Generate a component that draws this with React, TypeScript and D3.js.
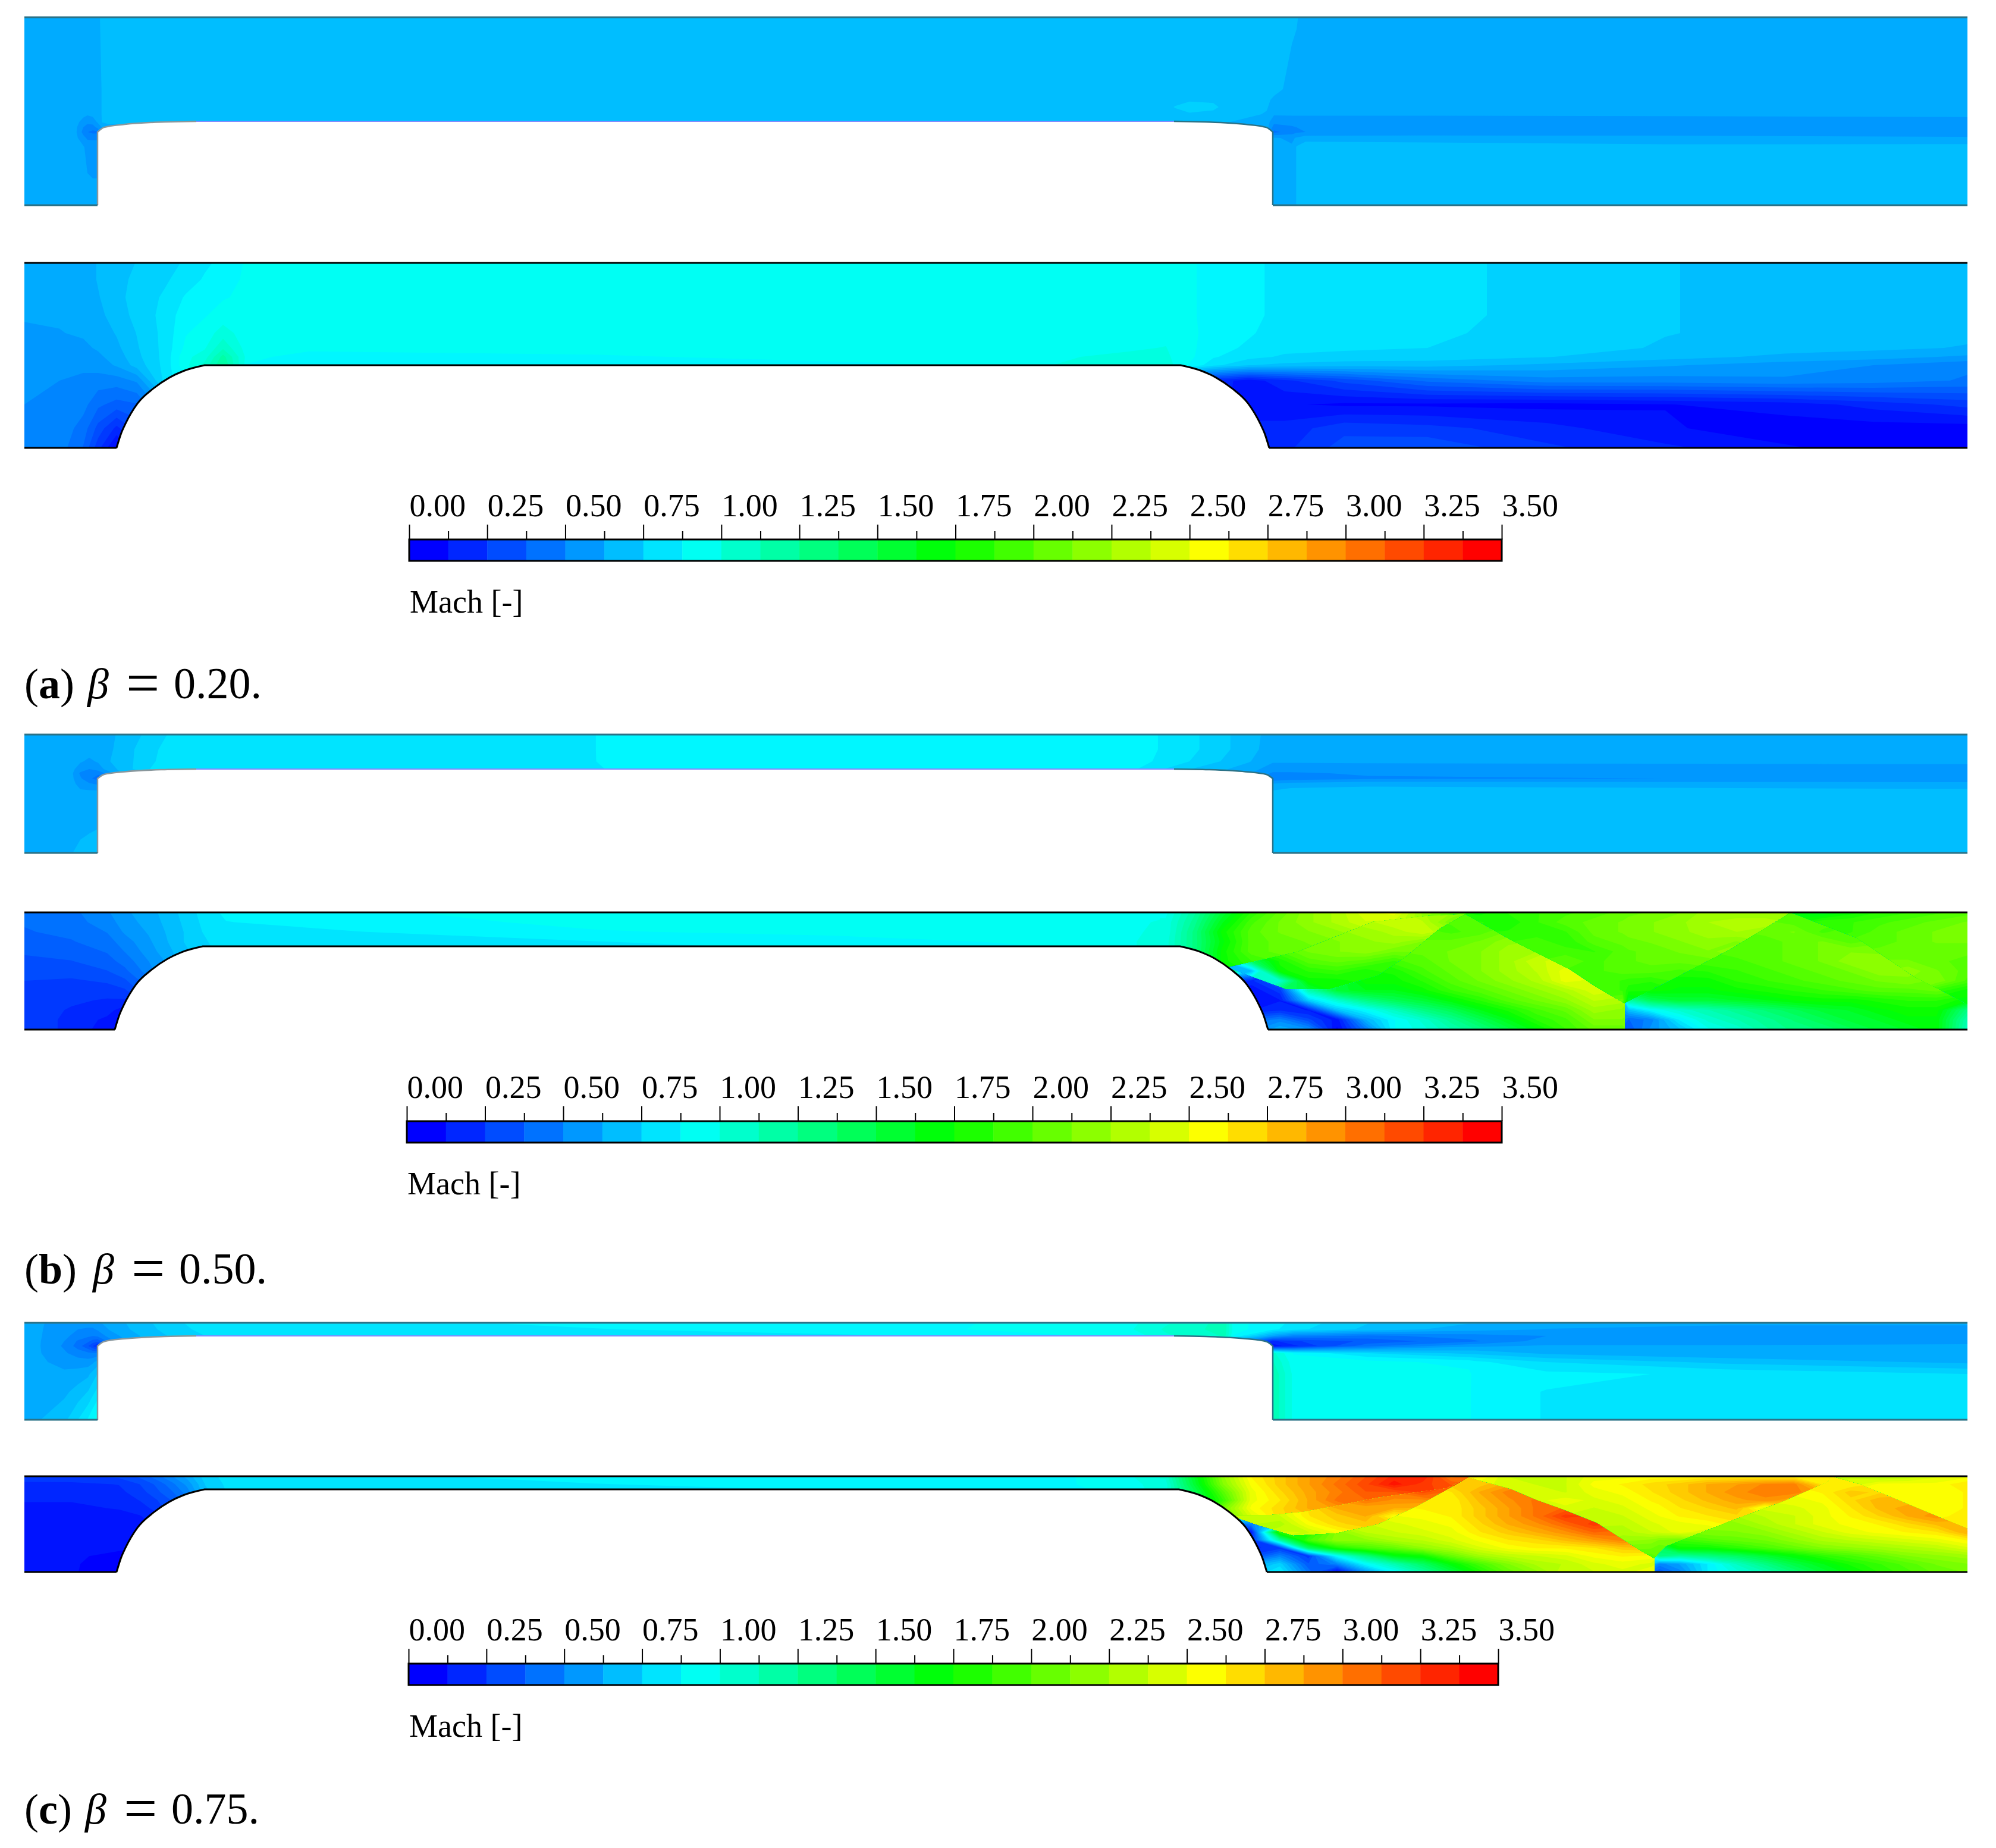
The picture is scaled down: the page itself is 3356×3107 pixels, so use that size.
import React, { useRef, useEffect } from "react";
import * as d3 from "d3";

const serif = "'Liberation Serif', serif";

// Mach colour map and colour bar
const machTicks = d3.range(0, 3.51, 0.25);
const machMinorTicks = d3.range(0.125, 3.5, 0.25);
const barBands = d3.range(0, 3.5, 0.125);
const colourStops = [0.0625, 0.9, 1.72, 2.57, 3.44];
const colourNames = ["#0000ff", "#00ffff", "#00ff00", "#ffff00", "#ff0000"];
const fieldLevels = [-0.1, ...d3.range(0.03, 3.6, 0.0625)];

// Panel (a), upper passage
const aTopX = [41, 125, 140, 147, 156, 164, 172, 182, 1960, 1975, 2000, 2040, 2060, 2130, 2142, 2172, 2180, 2195, 2400, 2800, 3308];
const aTopY = [29, 150, 168, 180, 192, 205, 214, 222, 232, 247, 345];
const aTopMach = [
  [.62, .62, .62, .62, .62, .64, .67, .69, .69, .69, .69, .69, .69, .69, .69, .67, .66, .63, .63, .63, .63],
  [.62, .62, .62, .62, .62, .63, .66, .69, .69, .69, .69, .69, .69, .69, .68, .63, .63, .63, .63, .63, .63],
  [.62, .62, .62, .62, .62, .63, .66, .69, .69, .7, .7, .7, .69, .67, .64, .63, .63, .63, .63, .63, .63],
  [.62, .62, .62, .62, .62, .63, .66, .69, .69, .72, .78, .74, .69, .66, .63, .62, .62, .62, .62, .62, .62],
  [.62, .62, .61, .6, .61, .63, .66, .69, .69, .7, .7, .69, .69, .65, .6, .6, .6, .6, .6, .6, .6],
  [.62, .62, .57, .55, .56, .6, .66, .69, .66, .66, .66, .66, .66, .62, .55, .56, .56, .56, .56, .57, .58],
  [.62, .62, .53, .5, .5, .55, .6, .6, .6, .6, .6, .6, .6, .62, .5, .52, .53, .54, .54, .54, .55],
  [.62, .62, .51, .47, .45, .45, .6, .6, .6, .6, .6, .6, .6, .6, .45, .5, .52, .53, .54, .55, .56],
  [.62, .62, .55, .52, .52, .52, .6, .6, .6, .6, .6, .6, .6, .6, .6, .58, .6, .63, .63, .62, .6],
  [.62, .62, .6, .57, .56, .56, .6, .6, .6, .6, .6, .6, .6, .6, .6, .6, .66, .69, .68, .67, .68],
  [.62, .62, .62, .62, .62, .62, .6, .6, .6, .6, .6, .6, .6, .6, .6, .6, .66, .69, .69, .69, .69],
];

// Panel (a), lower passage
const aBottomX = [41, 100, 140, 165, 196, 230, 277, 312, 344, 375, 420, 520, 1000, 1500, 1900, 1960, 2000, 2040, 2100, 2160, 2260, 2400, 2600, 2800, 3000, 3150, 3308];
const aBottomY = [442, 470, 500, 530, 560, 585, 600, 614, 640, 680, 720, 753];
const aBottomMach = [
  [.6, .61, .62, .66, .69, .72, .75, .79, .83, .86, .92, .92, .92, .92, .94, .95, .92, .87, .86, .82, .81, .8, .76, .72, .7, .69, .69],
  [.6, .61, .62, .66, .7, .73, .77, .81, .85, .88, .92, .92, .92, .92, .94, .95, .92, .87, .86, .82, .81, .8, .76, .72, .7, .69, .69],
  [.6, .6, .62, .65, .7, .74, .79, .85, .87, .9, .92, .92, .92, .92, .94, .95, .92, .87, .86, .82, .81, .8, .76, .72, .7, .69, .69],
  [.6, .6, .61, .64, .68, .74, .8, .88, .9, .93, .92, .92, .92, .92, .95, .95, .92, .87, .86, .82, .81, .8, .76, .72, .7, .69, .68],
  [.58, .59, .6, .62, .66, .72, .8, .9, .93, 1, .92, .92, .92, .92, .96, .95, .92, .88, .85, .81, .8, .79, .76, .72, .7, .69, .67],
  [.56, .57, .58, .6, .64, .71, .8, .92, .96, 1.08, .92, .92, .92, .92, .96, .97, .92, .87, .83, .8, .79, .78, .75, .71, .68, .67, .65],
  [.54, .55, .56, .58, .62, .7, .8, .95, 1, 1.18, .92, .88, .9, .92, .98, .98, .92, .85, .8, .77, .76, .75, .72, .68, .64, .62, .58],
  [.53, .54, .54, .56, .6, .68, .8, .95, 1.05, 1.22, .9, .87, .88, .9, 1, 1, .9, .8, .72, .7, .68, .68, .64, .6, .56, .53, .48],
  [.53, .53, .52, .5, .5, .54, .8, .9, 1, 1, .9, .87, .88, .9, 1, .6, .3, .2, .12, .2, .3, .42, .5, .5, .52, .5, .46],
  [.53, .52, .49, .42, .38, .4, .6, .8, .9, .9, .9, .87, .88, .9, 1, .6, .3, .2, .1, .1, .08, .08, .07, .09, .12, .18, .24],
  [.53, .51, .44, .32, .2, .3, .5, .8, .9, .9, .9, .87, .88, .9, 1, .6, .3, .2, .18, .18, .26, .24, .18, .1, .06, .06, .06],
  [.53, .5, .4, .24, .07, .2, .5, .8, .9, .9, .9, .87, .88, .9, 1, .6, .3, .2, .2, .2, .31, .33, .23, .17, .1, .07, .07],
];

// Panel (b), upper passage
const bTopX = [41, 118, 135, 150, 165, 182, 215, 252, 310, 350, 1000, 1030, 1900, 2000, 2100, 2140, 2170, 2300, 3308];
const bTopY = [1235, 1260, 1280, 1293, 1300, 1309, 1318, 1330, 1434];
const bTopMach = [
  [.62, .62, .62, .62, .62, .64, .68, .74, .82, .84, .84, .88, .88, .8, .68, .63, .62, .62, .62],
  [.62, .62, .62, .62, .62, .64, .7, .76, .84, .84, .84, .88, .88, .8, .68, .62, .62, .62, .62],
  [.62, .62, .6, .58, .6, .65, .7, .77, .83, .84, .84, .87, .88, .78, .66, .6, .6, .6, .6],
  [.62, .62, .56, .53, .56, .62, .7, .78, .81, .82, .82, .86, .86, .72, .62, .56, .56, .57, .58],
  [.62, .62, .52, .47, .48, .56, .7, .7, .7, .7, .7, .7, .7, .7, .6, .52, .52, .54, .54],
  [.62, .62, .54, .48, .44, .44, .7, .7, .7, .7, .7, .7, .7, .6, .6, .48, .5, .52, .54],
  [.62, .62, .57, .54, .52, .52, .7, .7, .7, .7, .7, .7, .6, .6, .6, .6, .62, .64, .62],
  [.62, .62, .6, .6, .6, .62, .7, .7, .7, .7, .7, .7, .6, .6, .6, .66, .68, .68, .67],
  [.62, .65, .67, .68, .69, .69, .7, .7, .7, .7, .7, .7, .6, .6, .6, .68, .69, .69, .69],
];

// Panel (b), lower passage: left part and right part share the rows
const bBottomY = d3.range(1534, 1732, 197 / 12);
const bBottomLeftX = [41, 120, 180, 210, 250, 280, 310, 340, 380, 600, 1000, 1400, 1800, 1900];
const bBottomLeftMach = [
  [.42, .45, .52, .58, .63, .68, .74, .8, .86, .9, .92, .93, .93, .95],
  [.41, .44, .5, .56, .62, .67, .73, .79, .84, .88, .92, .92, .93, .95],
  [.4, .42, .47, .54, .6, .66, .72, .78, .82, .84, .9, .92, .93, .96],
  [.37, .4, .44, .5, .58, .65, .72, .77, .81, .82, .84, .88, .92, .96],
  [.35, .37, .41, .47, .56, .63, .7, .76, .8, .8, .8, .84, .9, .96],
  [.33, .34, .38, .43, .53, .6, .7, .76, .8, .8, .8, .84, .9, .96],
  [.3, .31, .34, .39, .5, .6, .7, .76, .8, .8, .8, .84, .9, .96],
  [.28, .27, .29, .33, .45, .6, .7, .76, .8, .8, .8, .84, .9, .96],
  [.27, .24, .25, .27, .4, .6, .7, .76, .8, .8, .8, .84, .9, .96],
  [.26, .23, .21, .21, .3, .6, .7, .76, .8, .8, .8, .84, .9, .96],
  [.26, .21, .18, .12, .2, .6, .7, .76, .8, .8, .8, .84, .9, .96],
  [.26, .2, .14, .08, .1, .6, .7, .76, .8, .8, .8, .84, .9, .96],
  [.26, .2, .12, .06, .1, .6, .7, .76, .8, .8, .8, .84, .9, .96],
];
const bBottomRightX = [1960, 2008, 2056, 2104, 2152, 2200, 2248, 2296, 2344, 2392, 2440, 2488, 2536, 2584, 2632, 2680, 2728, 2738, 2776, 2824, 2872, 2920, 2968, 3016, 3064, 3112, 3160, 3208, 3256, 3308];
const bBottomRightMach = [
  [.95, 1.2, 1.55, 1.85, 2.05, 2.2, 2.3, 2.45, 2.5, 2.2, 2, 1.75, 1.85, 1.9, 1.95, 2, 2.05, 2.07, 2.1, 2.15, 2.25, 2.25, 2.25, 1.7, 1.6, 1.75, 1.85, 1.9, 1.95, 2],
  [.98, 1.25, 1.65, 1.95, 2.1, 2.2, 2.3, 2.4, 2.4, 2.35, 2.1, 1.85, 1.8, 1.9, 2, 2.05, 2.1, 2.12, 2.15, 2.2, 2.28, 2.3, 2.3, 2, 1.9, 1.9, 1.95, 2, 2.05, 2.1],
  [.98, 1.3, 1.75, 2, 2.1, 2.15, 2.2, 2.25, 2.3, 2.4, 1.95, 2, 1.85, 1.85, 1.9, 2.05, 2.1, 2.12, 2.15, 2.2, 2.25, 2.28, 2.05, 2.1, 1.95, 1.9, 2, 2.05, 2.1, 2.15],
  [1, 1.3, 1.7, 2, 2.05, 2.1, 2.15, 2.2, 2.25, 2.15, 2.05, 2.1, 2.2, 1.95, 1.85, 2, 2.05, 2.07, 2.1, 2.15, 2.2, 2.15, 2, 2.05, 2.1, 2, 2, 2.05, 2.1, 2.1],
  [1, 1.3, 1.75, 2, 2.05, 2.1, 2.15, 2.2, 2.1, 2.05, 2.1, 2.15, 2.25, 1.95, 1.95, 1.9, 2, 2.02, 2.05, 2.1, 2.15, 2, 2, 2.05, 2.1, 2.15, 2.05, 2.05, 2.05, 2.05],
  [1, 1.3, 1.75, 1.9, 1.8, 2, 2.05, 2, 1.9, 2, 2.1, 2.15, 2.25, 2.4, 2, 1.95, 2, 2.02, 2.05, 2.05, 1.95, 1.95, 2, 2.05, 2.1, 2.2, 2.2, 2.1, 2.05, 2],
  [1, 1.3, 1.75, .7, 1.75, 1.85, 1.9, 1.8, 1.8, 1.95, 2.05, 2.15, 2.25, 2.35, 2.5, 1.95, 2, 2, 2, 1.95, 1.85, 1.9, 1.95, 2, 2.05, 2.1, 2.2, 2.2, 2.1, 2],
  [1, 1.3, .3, .2, 1.05, 1.75, 1.75, 1.75, 1.75, 1.85, 2, 2.1, 2.2, 2.3, 2.5, 1.95, 1.9, 1.88, 1.85, 1.75, 1.75, 1.85, 1.9, 1.95, 2, 2.05, 2.1, 2.15, 2.15, 1.95],
  [1, 1.3, .2, .1, .25, 1.15, 1.55, 1.65, 1.65, 1.75, 1.9, 2, 2.1, 2.2, 2.3, 2.45, 1.9, 1.8, 1.75, 1.7, 1.7, 1.75, 1.8, 1.85, 1.9, 1.95, 2, 2, 2.05, 1.75],
  [1, 1.3, .2, .1, .15, .75, 1.05, 1.3, 1.45, 1.55, 1.7, 1.85, 2, 2.1, 2.2, 2.35, 2.05, 1.6, 1.45, 1.55, 1.55, 1.6, 1.65, 1.72, 1.75, 1.75, 1.8, 1.85, 1.85, 1.7],
  [1, 1.3, .2, .15, .2, .15, .7, .9, 1.1, 1.3, 1.45, 1.65, 1.8, 1.95, 2.05, 2.25, 2.2, .7, .9, 1.05, 1.15, 1.25, 1.35, 1.45, 1.55, 1.6, 1.7, 1.75, 1.75, 1.3],
  [1, 1.3, .3, .4, .5, .3, .12, .65, .9, 1.05, 1.25, 1.45, 1.65, 1.85, 1.95, 2.15, 2.15, .4, .5, .85, 1.05, 1.15, 1.25, 1.35, 1.45, 1.55, 1.6, 1.7, 1.7, 1.15],
  [1, 1.3, .3, .5, .65, .55, .08, .45, .9, 1, 1.15, 1.3, 1.5, 1.7, 1.9, 2.05, 2.05, .35, .55, .7, .95, 1.05, 1.2, 1.3, 1.35, 1.45, 1.55, 1.6, 1.7, 1.1],
];

// Panel (c), upper passage
const cTopX = [41, 64, 108, 131, 148, 156, 164, 185, 215, 250, 300, 345, 765, 1500, 1900, 1960, 2060, 2075, 2140, 2175, 2300, 2470, 2480, 2600, 2900, 3308];
const cTopY = [2224, 2235, 2246, 2255, 2263, 2275, 2290, 2310, 2340, 2387];
const cTopMach = [
  [.6, .6, .57, .55, .56, .56, .58, .62, .66, .71, .77, .82, .84, .88, .95, 1.02, 1.12, .92, .88, .82, .72, .66, .66, .62, .6, .6],
  [.6, .6, .56, .53, .52, .52, .54, .6, .65, .7, .76, .8, .82, .88, .96, 1.04, 1.12, .93, .86, .8, .7, .62, .62, .59, .58, .58],
  [.6, .6, .55, .5, .48, .47, .48, .56, .62, .68, .74, .78, .8, .84, .92, 1.02, 1.1, .9, .6, .5, .45, .5, .5, .53, .56, .58],
  [.6, .6, .53, .46, .42, .38, .36, .5, .6, .68, .74, .78, .8, .84, .9, .9, .9, .6, .2, .27, .36, .45, .46, .56, .56, .58],
  [.6, .6, .52, .44, .35, .28, .2, .5, .6, .68, .74, .78, .8, .8, .8, .8, .8, .5, .12, .2, .45, .58, .58, .6, .6, .6],
  [.6, .6, .54, .5, .48, .47, .48, .5, .6, .68, .74, .78, .8, .8, .8, .8, .8, .8, 1.05, .9, .78, .7, .7, .64, .6, .6],
  [.6, .6, .58, .56, .56, .58, .62, .6, .6, .68, .74, .78, .8, .8, .8, .8, .8, .8, 1.1, .93, .93, .88, .86, .78, .7, .64],
  [.6, .62, .6, .62, .64, .68, .72, .6, .6, .68, .74, .78, .8, .8, .8, .8, .8, .8, 1.15, .95, .93, .92, .88, .86, .83, .78],
  [.6, .62, .64, .68, .72, .76, .8, .6, .6, .68, .74, .78, .8, .8, .8, .8, .8, .8, 1.15, .95, .93, .92, .87, .84, .84, .84],
  [.6, .65, .7, .78, .85, .9, .95, .6, .6, .68, .74, .78, .8, .8, .8, .8, .8, .8, 1.15, .95, .93, .92, .87, .84, .84, .84],
];

// Panel (c), lower passage: left part and right part share the rows
const cBottomY = d3.range(2482, 2644, 161 / 12);
const cBottomLeftX = [41, 120, 200, 235, 265, 290, 315, 345, 380, 600, 800, 1000, 1300, 1600, 1800, 1900];
const cBottomLeftMach = [
  [.26, .27, .3, .36, .45, .53, .62, .75, .8, .8, .85, .87, .87, .88, .9, .96],
  [.2, .2, .22, .28, .36, .45, .55, .72, .79, .79, .81, .84, .86, .87, .9, .95],
  [.18, .18, .2, .25, .33, .4, .5, .7, .78, .78, .78, .8, .83, .86, .88, .94],
  [.16, .16, .18, .22, .28, .35, .45, .6, .7, .78, .78, .78, .8, .83, .85, .92],
  [.14, .14, .16, .19, .24, .35, .45, .6, .7, .78, .78, .78, .8, .83, .85, .92],
  [.12, .12, .13, .15, .2, .35, .45, .6, .7, .78, .78, .78, .8, .83, .85, .92],
  [.1, .1, .12, .12, .18, .35, .45, .6, .7, .78, .78, .78, .8, .83, .85, .92],
  [.1, .1, .1, .1, .18, .35, .45, .6, .7, .78, .78, .78, .8, .83, .85, .92],
  [.1, .1, .1, .1, .18, .35, .45, .6, .7, .78, .78, .78, .8, .83, .85, .92],
  [.1, .1, .1, .1, .18, .35, .45, .6, .7, .78, .78, .78, .8, .83, .85, .92],
  [.1, .1, .08, .08, .18, .35, .45, .6, .7, .78, .78, .78, .8, .83, .85, .92],
  [.1, .1, .06, .06, .18, .35, .45, .6, .7, .78, .78, .78, .8, .83, .85, .92],
  [.1, .1, .05, .05, .18, .35, .45, .6, .7, .78, .78, .78, .8, .83, .85, .92],
];
const cBottomRightX = [1960, 2008, 2056, 2104, 2152, 2200, 2248, 2296, 2344, 2392, 2440, 2488, 2536, 2584, 2632, 2680, 2728, 2776, 2790, 2824, 2872, 2920, 2968, 3016, 3064, 3112, 3160, 3208, 3256, 3308];
const cBottomRightMach = [
  [1.05, 1.6, 2.2, 2.6, 2.75, 2.9, 3, 3.15, 3.3, 3.35, 3, 2.6, 2.4, 2.35, 2.4, 2.5, 2.5, 2.55, 2.55, 2.55, 2.6, 2.6, 2.6, 2.6, 2.6, 2.4, 2.3, 2.35, 2.45, 2.5],
  [1, 1.55, 2.15, 2.55, 2.75, 2.9, 3.05, 3.2, 3.38, 3.25, 3.15, 2.75, 2.45, 2.4, 2.4, 2.55, 2.6, 2.68, 2.7, 2.75, 2.85, 2.9, 2.98, 3, 2.65, 2.6, 2.55, 2.55, 2.55, 2.65],
  [1, 1.45, 2, 2.5, 2.7, 2.87, 3, 3.15, 3.15, 3.18, 2.65, 2.85, 3, 2.45, 2.4, 2.5, 2.55, 2.65, 2.68, 2.75, 2.85, 2.95, 3, 3, 2.6, 2.75, 2.7, 2.55, 2.55, 2.6],
  [1, 1.4, 1.9, 2.5, 2.65, 2.85, 3.05, 3.05, 2.95, 2.95, 2.6, 2.8, 2.95, 3.05, 2.5, 2.45, 2.5, 2.6, 2.62, 2.7, 2.8, 2.88, 2.95, 2.5, 2.55, 2.7, 2.82, 2.55, 2.55, 2.6],
  [1, 1.4, 2.1, 2.55, 2.7, 2.85, 2.85, 2.85, 2.85, 2.6, 2.6, 2.75, 2.9, 3.05, 2.45, 2.4, 2.45, 2.55, 2.57, 2.65, 2.72, 2.8, 2.45, 2.45, 2.5, 2.65, 2.8, 2.88, 2.55, 2.6],
  [1, 1.4, 2.1, 2.35, 2.4, 2.65, 2.75, 2.85, 2.55, 2.55, 2.6, 2.75, 2.9, 3.05, 3.25, 2.35, 2.4, 2.5, 2.53, 2.6, 2.65, 2.7, 2.35, 2.4, 2.5, 2.6, 2.72, 2.85, 2.95, 2.6],
  [1, 1.4, .2, .5, 2.3, 2.55, 2.7, 2.75, 2.45, 2.5, 2.55, 2.7, 2.85, 2.95, 3.1, 3.25, 2.35, 2.45, 2.47, 2.5, 2.55, 2.2, 2.3, 2.4, 2.5, 2.55, 2.6, 2.7, 2.8, 2.6],
  [1, 1.4, .1, .15, 1.9, 2.4, 2.55, 2.35, 2.4, 2.45, 2.5, 2.65, 2.75, 2.85, 2.95, 3.1, 2.3, 2.4, 2.42, 2.5, 2.15, 2.15, 2.2, 2.3, 2.4, 2.5, 2.55, 2.6, 2.65, 2.85],
  [1, 1.4, .1, .2, 1.2, 1.95, 2.2, 2.2, 2.3, 2.35, 2.45, 2.55, 2.65, 2.7, 2.8, 2.9, 3, 2.2, 2.15, 2.1, 2, 2.05, 2.1, 2.2, 2.3, 2.35, 2.4, 2.45, 2.5, 2.6],
  [1, 1.4, .1, .2, .25, 1.4, 1.8, 1.95, 2.05, 2.2, 2.3, 2.45, 2.55, 2.6, 2.6, 2.65, 2.75, 2.1, 2.05, 1.75, 1.75, 1.85, 1.95, 2.05, 2.15, 2.2, 2.25, 2.3, 2.35, 2.45],
  [1, 1.4, .2, .3, .5, .25, .9, 1.3, 1.65, 1.75, 2.05, 2.25, 2.35, 2.4, 2.45, 2.55, 2.6, 2, 1.3, 1.2, 1.3, 1.4, 1.55, 1.7, 1.85, 1.95, 2.05, 2.15, 2.2, 2.25],
  [1, 1.4, .3, .6, .75, .35, .5, .9, 1.15, 1.4, 1.7, 1.95, 2.15, 2.3, 2.35, 2.45, 2.5, 2.45, .5, .6, .85, 1.1, 1.3, 1.5, 1.65, 1.8, 1.9, 2, 2.1, 2.15],
  [1, 1.4, .3, .7, .85, .45, .08, .55, .9, 1.2, 1.5, 1.8, 2.05, 2.2, 2.4, 2.4, 2.45, 2.5, .35, .5, .85, 1, 1.15, 1.35, 1.55, 1.7, 1.85, 1.95, 2.05, 2.1],
];

// Shock and slip lines (b) and (c), as [x, y] in picture pixels
type Pt = [number, number];
const bSlip: Pt[] = [[2063, 1627], [2183, 1600], [2308, 1550], [2400, 1540], [2464, 1537]];
const bRising: Pt[] = [[2063, 1627], [2161, 1663], [2237, 1663], [2317, 1640], [2362, 1610], [2420, 1562], [2464, 1537]];
const bFalling: Pt[] = [[2464, 1537], [2540, 1580], [2640, 1630], [2685, 1660], [2732, 1687]];
const bReflected: Pt[] = [[2732, 1687], [2819, 1643], [2908, 1597], [3002, 1540], [3010, 1534]];
const bFalling2: Pt[] = [[3010, 1534], [3122, 1577], [3220, 1643], [3260, 1663], [3320, 1695]];
const cSlip: Pt[] = [[2067, 2548], [2139, 2547], [2192, 2542], [2246, 2532], [2317, 2518], [2389, 2508], [2433, 2502], [2470, 2484]];
const cRising: Pt[] = [[2067, 2548], [2116, 2565], [2174, 2582], [2246, 2578], [2317, 2563], [2384, 2532], [2455, 2493], [2470, 2484]];
const cFalling: Pt[] = [[2470, 2484], [2540, 2503], [2585, 2522], [2630, 2538], [2685, 2560], [2729, 2588], [2760, 2608], [2782, 2620]];
const cReflected: Pt[] = [[2782, 2620], [2801, 2600], [2908, 2558], [2997, 2525], [3073, 2492], [3080, 2482]];
const cFalling2: Pt[] = [[3080, 2482], [3127, 2495], [3176, 2515], [3265, 2552], [3320, 2574]];

// Wall profiles as fractions of the rounded length and height
const lipU = [0, 0.066, 0.277, 0.68, 1];
const lipV = [1, 0.56, 0.28, 0.056, 0];
const hubU = [0, 0.05, 0.1, 0.24, 0.42, 0.6, 0.76, 1];
const hubV = [0, 0.17, 0.29, 0.54, 0.72, 0.85, 0.93, 1];

const captionLetters = ["a", "b", "c"];
const captionBetas = ["0.20.", "0.50.", "0.75."];
const barLabel = "Mach [-]";

interface Passage {
  xs: number[];
  ys: number[];
  mach: number[][];
}

const join = (left: number[][], right: number[][]) => left.map((row, i) => [...row, ...right[i]]);

const fields: Passage[][] = [
  [
    { xs: aTopX, ys: aTopY, mach: aTopMach },
    { xs: aBottomX, ys: aBottomY, mach: aBottomMach },
  ],
  [
    { xs: bTopX, ys: bTopY, mach: bTopMach },
    { xs: [...bBottomLeftX, ...bBottomRightX], ys: bBottomY, mach: join(bBottomLeftMach, bBottomRightMach) },
  ],
  [
    { xs: cTopX, ys: cTopY, mach: cTopMach },
    { xs: [...cBottomLeftX, ...cBottomRightX], ys: cBottomY, mach: join(cBottomLeftMach, cBottomRightMach) },
  ],
];

// Geometry of each row: upper passage and lower passage outlines
const upperGeom = [
  { top: 29, flat: 204, notch: 222, bottom: 345 },
  { top: 1235, flat: 1293, notch: 1309, bottom: 1434 },
  { top: 2224, flat: 2246, notch: 2263, bottom: 2387 },
];
const lowerGeom = [
  { top: 442, flat: 614, bottom: 753, baseL: 196, topL: 344, topR: 1985, baseR: 2134 },
  { top: 1534, flat: 1591, bottom: 1731, baseL: 193, topL: 341, topR: 1984, baseR: 2132 },
  { top: 2482, flat: 2504, bottom: 2643, baseL: 196, topL: 344, topR: 1982, baseR: 2130 },
];
const barGeom = [
  { left: 688, right: 2525, top: 907 },
  { left: 684, right: 2525, top: 1885 },
  { left: 687, right: 2519, top: 2797 },
];
const captionGeom = [
  { baseline: 1174, shift: 0 },
  { baseline: 2158, shift: 9 },
  { baseline: 3066, shift: -4 },
];

const X0 = 41;
const X1 = 3308;
const stepL = 164;
const stepR = 2140;
const lipEndL = 330;
const lipEndR = 1974;

// Zones between the shocks: each one is contoured on its own so the lines stay sharp
const shockZones = (slip: Pt[], rising: Pt[], falling: Pt[], reflected: Pt[], falling2: Pt[], top: number, bottom: number): Pt[][] => {
  const T = top - 12;
  const B = bottom + 12;
  const start = slip[0];
  const junction = falling[0];
  const foot = falling[falling.length - 1];
  const crest = reflected[reflected.length - 1];
  return [
    [[1950, T], [junction[0], T], ...[...slip].reverse(), [1950, start[1]]],
    [...slip, ...[...rising].reverse()],
    [...falling, [foot[0], B], [1950, B], [1950, start[1]], ...rising],
    [...falling, ...reflected, [crest[0], T], [junction[0], T]],
    [...reflected, ...falling2, [3320, B], [foot[0], B]],
    [...falling2, [3320, T], [crest[0], T]],
  ];
};

const zones: (Pt[][] | null)[] = [
  null,
  shockZones(bSlip, bRising, bFalling, bReflected, bFalling2, 1534, 1731),
  shockZones(cSlip, cRising, cFalling, cReflected, cFalling2, 2482, 2643),
];

// Keep the values inside a zone and carry them outward, so contours reach its edge
const zoneGrid = (p: Passage, polygon: Pt[]): number[] => {
  const n = p.xs.length;
  const m = p.ys.length;
  let vals = p.mach.flat().map((v, k) =>
    d3.polygonContains(polygon, [p.xs[k % n], p.ys[Math.floor(k / n)]]) ? v : NaN,
  );
  for (let pass = 0; pass < n + m && vals.some(Number.isNaN); pass++) {
    const next = vals.slice();
    vals.forEach((v, k) => {
      if (!Number.isNaN(v)) return;
      const i = k % n;
      const j = Math.floor(k / n);
      const near: number[] = [];
      for (let a = -1; a <= 1; a++) {
        for (let b = -1; b <= 1; b++) {
          if (i + a < 0 || i + a >= n || j + b < 0 || j + b >= m) continue;
          const w = vals[j * n + b * n + i + a];
          if (!Number.isNaN(w)) near.push(w);
        }
      }
      if (near.length) next[k] = d3.mean(near) as number;
    });
    vals = next;
  }
  return vals.map((v) => (Number.isNaN(v) ? 0 : v));
};

export default function App() {
  const ref = useRef<SVGSVGElement | null>(null);

  useEffect(() => {
    const svg = d3.select(ref.current);
    svg.selectAll("*").remove();

    const colour = d3.scaleLinear<string>().domain(colourStops).range(colourNames).clamp(true);
    const line = d3.line().curve(d3.curveMonotoneX);

    const drawField = (g: any, p: Passage, top: number, bottom: number, id: string, parts: Pt[][] | null) => {
      const n = p.xs.length;
      const m = p.ys.length;
      // d3.contours puts grid values at cell centres
      const sx = d3.scaleLinear().domain(p.xs.map((_, i) => i + 0.5)).range(p.xs);
      const sy = d3.scaleLinear().domain(p.ys.map((_, i) => i + 0.5)).range(p.ys);
      const path = d3.geoPath(
        d3.geoTransform({
          point(x: number, y: number) {
            (this as any).stream.point(sx(x), sy(y));
          },
        }),
      );
      const contourer = d3.contours().size([n, m]).thresholds(fieldLevels);
      const paint = (parent: any, values: number[]) =>
        parent
          .selectAll("path")
          .data(contourer(values))
          .join("path")
          .attr("d", (d: any) => path(d))
          .attr("fill", (d: any) => colour(Math.max(d.value, 0) + 0.03125));

      g.append("clipPath").attr("id", id).append("rect").attr("x", X0).attr("y", top).attr("width", X1 - X0).attr("height", bottom - top);
      const holder = g.append("g").attr("clip-path", `url(#${id})`);
      paint(holder.append("g"), p.mach.flat());
      (parts || []).forEach((polygon, k) => {
        const zoneId = `${id}-zone-${k}`;
        holder.append("clipPath").attr("id", zoneId).append("path").attr("d", `M${polygon.join("L")}Z`);
        paint(holder.append("g").attr("clip-path", `url(#${zoneId})`), zoneGrid(p, polygon));
      });
    };

    fields.forEach((pair, row) => {
      const g = svg.append("g");
      const up = upperGeom[row];
      const lo = lowerGeom[row];

      // Upper passage
      drawField(g, pair[0], up.top, up.bottom, `upper-${row}`, null);
      const lipX = d3.scaleLinear().domain([0, 1]).range([stepL, lipEndL]);
      const lipXR = d3.scaleLinear().domain([0, 1]).range([stepR, lipEndR]);
      const lipY = d3.scaleLinear().domain([0, 1]).range([up.flat, up.notch]);
      const lipL: [number, number][] = lipU.map((u, i) => [lipX(u), lipY(lipV[i])]);
      const lipR: [number, number][] = lipU.map((u, i) => [lipXR(u), lipY(lipV[i])]).reverse() as [number, number][];
      const upperBody =
        `M${stepL},${up.bottom + 4}L${stepL},${up.notch}` +
        (line(lipL) as string).replace("M", "L") +
        (line(lipR) as string).replace("M", "L") +
        `L${stepR},${up.bottom + 4}Z`;
      g.append("path").attr("d", upperBody).attr("fill", "#fff");
      g.append("path")
        .attr("d", `M${stepL},${up.bottom}L${stepL},${up.notch}` + (line(lipL) as string).replace("M", "L"))
        .attr("fill", "none").attr("stroke", "#8a979c").attr("stroke-width", 2.5);
      g.append("path")
        .attr("d", (line(lipR) as string) + `L${stepR},${up.bottom}`)
        .attr("fill", "none").attr("stroke", "#2b7287").attr("stroke-width", 2.5);
      g.append("line")
        .attr("x1", lipEndL).attr("x2", lipEndR).attr("y1", up.flat).attr("y2", up.flat)
        .attr("stroke", "#7f8cff").attr("stroke-width", 2);
      g.append("line")
        .attr("x1", X0).attr("x2", X1).attr("y1", up.top).attr("y2", up.top)
        .attr("stroke", "#2b7287").attr("stroke-width", 3);
      [[X0, stepL], [stepR, X1]].forEach(([a, b]) => {
        g.append("line").attr("x1", a).attr("x2", b).attr("y1", up.bottom).attr("y2", up.bottom)
          .attr("stroke", "#2b7287").attr("stroke-width", 3);
      });

      // Lower passage
      drawField(g, pair[1], lo.top, lo.bottom, `lower-${row}`, zones[row]);
      const hubXL = d3.scaleLinear().domain([0, 1]).range([lo.baseL, lo.topL]);
      const hubXR = d3.scaleLinear().domain([0, 1]).range([lo.baseR, lo.topR]);
      const hubY = d3.scaleLinear().domain([0, 1]).range([lo.bottom, lo.flat]);
      const hubL: [number, number][] = hubU.map((u, i) => [hubXL(u), hubY(hubV[i])]);
      const hubR: [number, number][] = hubU.map((u, i) => [hubXR(u), hubY(hubV[i])]).reverse() as [number, number][];
      const lowerOutline = (line(hubL) as string) + (line(hubR) as string).replace("M", "L");
      g.append("path")
        .attr("d", lowerOutline + `L${lo.baseR},${lo.bottom + 6}L${lo.baseL},${lo.bottom + 6}Z`)
        .attr("fill", "#fff");
      g.append("path").attr("d", lowerOutline).attr("fill", "none").attr("stroke", "#000").attr("stroke-width", 3);
      g.append("line")
        .attr("x1", X0).attr("x2", X1).attr("y1", lo.top).attr("y2", lo.top)
        .attr("stroke", "#000").attr("stroke-width", 3);
      [[X0, lo.baseL], [lo.baseR, X1]].forEach(([a, b]) => {
        g.append("line").attr("x1", a).attr("x2", b).attr("y1", lo.bottom).attr("y2", lo.bottom)
          .attr("stroke", "#000").attr("stroke-width", 3);
      });

      // Colour bar
      const bar = barGeom[row];
      const x = d3.scaleLinear().domain([0, 3.5]).range([bar.left, bar.right]);
      const barG = g.append("g");
      barG.selectAll("rect")
        .data(barBands)
        .join("rect")
        .attr("x", (d: number) => x(d))
        .attr("y", bar.top)
        .attr("width", x(0.125) - x(0) + 0.5)
        .attr("height", 36)
        .attr("fill", (d: number) => colour(d + 0.0625));
      barG.append("rect")
        .attr("x", bar.left).attr("y", bar.top)
        .attr("width", bar.right - bar.left).attr("height", 36)
        .attr("fill", "none").attr("stroke", "#000").attr("stroke-width", 3);

      const major = g.append("g").attr("transform", `translate(0,${bar.top})`).call(
        d3.axisTop(x).tickValues(machTicks).tickSize(25).tickPadding(14).tickFormat(d3.format(".2f") as any),
      );
      major.select(".domain").remove();
      major.selectAll("line").attr("stroke", "#000").attr("stroke-width", 2);
      major.selectAll("text")
        .attr("text-anchor", "start")
        .attr("dx", 0)
        .attr("fill", "#000")
        .style("font-family", serif)
        .style("font-size", "54px");
      const minor = g.append("g").attr("transform", `translate(0,${bar.top})`).call(
        d3.axisTop(x).tickValues(machMinorTicks).tickSize(14).tickFormat(() => ""),
      );
      minor.select(".domain").remove();
      minor.selectAll("line").attr("stroke", "#000").attr("stroke-width", 2);

      g.append("text")
        .attr("x", bar.left + 1).attr("y", bar.top + 123)
        .attr("fill", "#000")
        .style("font-family", serif).style("font-size", "54px")
        .text(barLabel);

      // Caption
      const cap = captionGeom[row];
      const caption = g.append("text")
        .attr("x", 41).attr("y", cap.baseline)
        .attr("fill", "#000")
        .style("font-family", serif).style("font-size", "72px");
      caption.append("tspan").text("(");
      caption.append("tspan").attr("font-weight", "bold").text(captionLetters[row]);
      caption.append("tspan").text(")");
      caption.append("tspan").attr("x", 147 + cap.shift).attr("font-style", "italic").text("β");
      caption.append("tspan")
        .attr("x", 212 + cap.shift).attr("y", cap.baseline + 8)
        .style("font-size", "100px")
        .text("=");
      caption.append("tspan")
        .attr("x", 292 + cap.shift).attr("y", cap.baseline)
        .style("font-size", "74px")
        .text(captionBetas[row]);
    });
  }, []);

  return (
    <svg
      ref={ref}
      width={3356}
      height={3107}
      style={{ position: "absolute", left: 0, top: 0, display: "block", background: "#fff" }}
    />
  );
}
